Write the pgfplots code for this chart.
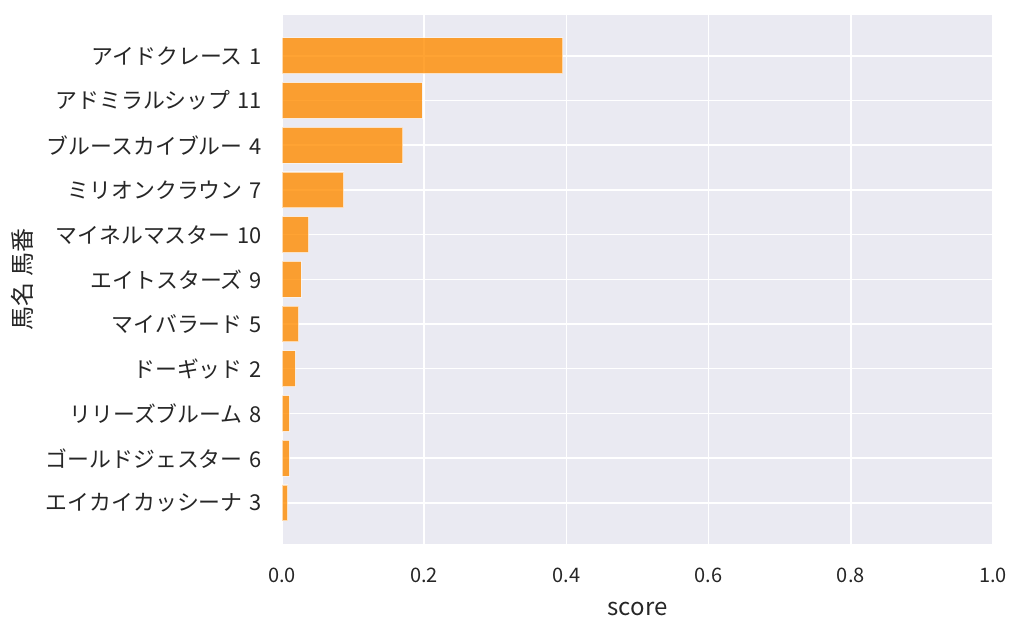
\documentclass[border=0pt]{standalone}
\usepackage{fontspec}
\setmainfont{Noto Sans CJK JP}
\usepackage{pgfplots}
\pgfplotsset{compat=1.18}
\definecolor{bg}{HTML}{EAEAF2}
\definecolor{txt}{HTML}{262626}
\definecolor{barc}{RGB}{255,140,0}
\newcommand\gp{\hspace{0.33em}}
\begin{document}
\begin{tikzpicture}
\path[use as bounding box] (0,0) rectangle (768pt,475.5pt);
\begin{axis}[
  at={(211.5pt,67.5pt)}, anchor=south west,
  scale only axis, width=533.25pt, height=397pt,
  xbar, bar width=0.8, bar shift=0pt,
  xmin=0, xmax=1, ymin=-0.92, ymax=10.92, y dir=reverse,
  ytick={0,...,10},
  yticklabels={アイドクレース\gp 1, アドミラルシップ\gp 11, ブルースカイブルー\gp 4, ミリオンクラウン\gp 7, マイネルマスター\gp 10, エイトスターズ\gp 9, マイバラード\gp 5, ドーギッド\gp 2, リリーズブルーム\gp 8, ゴールドジェスター\gp 6, エイカイカッシーナ\gp 3},
  xtick={0,0.2,0.4,0.6,0.8,1.0},
  xticklabels={0.0,0.2,0.4,0.6,0.8,1.0},
  axis background/.style={fill=bg},
  axis line style={draw=none}, tick style={draw=none},
  grid=major, major grid style={white, line width=1.1pt},
  ticklabel style={text=txt, inner sep=0pt},
  yticklabel style={font=\fontsize{16.4}{18}\selectfont, anchor=east, xshift=-10.5pt},
  xticklabel style={font=\fontsize{15}{18}\selectfont, anchor=base, yshift=-29pt},
  xlabel={score}, ylabel={馬名 馬番},
  label style={font=\fontsize{18}{22}\selectfont, text=txt, inner sep=0pt},
  xlabel style={at={(axis description cs:0.5,0)}, anchor=center, yshift=-48.5pt},
  ylabel style={at={(axis description cs:-0.3657,0.5)}, anchor=center, rotate=0},
]
\addplot[fill=barc, fill opacity=0.8, draw=white, draw opacity=0.6, line width=0.8pt]
coordinates {
(0.395,0) (0.197,1) (0.170,2) (0.0865,3) (0.0376,4) (0.0268,5) (0.0235,6) (0.0188,7) (0.0105,8) (0.0103,9) (0.008,10)
};
\end{axis}
\end{tikzpicture}
\end{document}
